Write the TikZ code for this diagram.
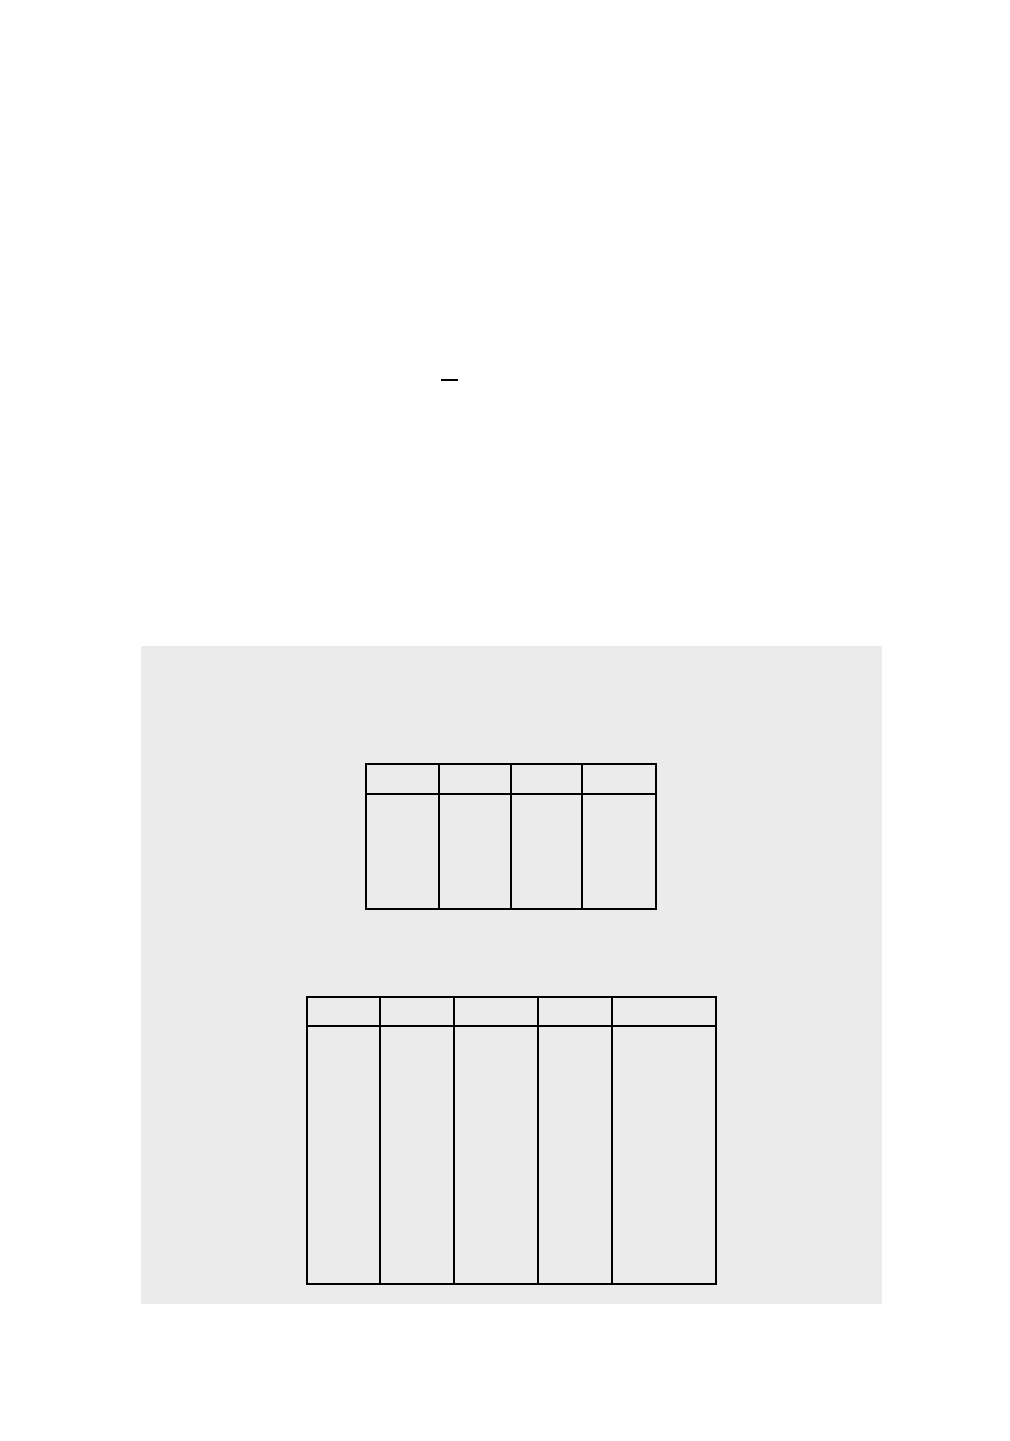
\documentclass[tikz,border=0pt]{standalone}
\usepackage{tikz}
\usetikzlibrary{positioning}
\usepackage{xcolor}
\definecolor{panelgrey}{HTML}{EBEBEB}

\begin{document}
\begin{tikzpicture}[x=0.02cm, y=-0.02cm, tbl/.style={line width=1.15pt}]
  \fill[white] (0,0) rectangle (1009,1441);
  \useasboundingbox (0,0) rectangle (1009,1441);
  \draw[line width=1.15pt] (441,380) -- (458,380);
  \fill[panelgrey] (141,646) rectangle (882,1304);
  % first table
  \draw[tbl, line width=1.3pt] (366,764) rectangle (656,909);
  \draw[tbl] (366,794) -- (656,794);
  \draw[tbl, line width=1.5pt] (439,764) -- (439,909);
  \foreach \x in {511,582}
    \draw[tbl] (\x,764) -- (\x,909);
  % second table
  \draw[tbl] (307,997) rectangle (716,1284);
  \draw[tbl] (307,1026) -- (716,1026);
  \foreach \x in {380,454,538,612}
    \draw[tbl] (\x,997) -- (\x,1284);
\end{tikzpicture}
\end{document}
